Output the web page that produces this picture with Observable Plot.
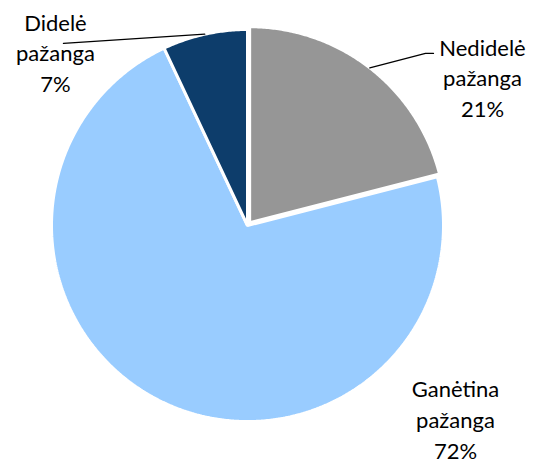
<!DOCTYPE html>
<html>
<head>
<meta charset="utf-8">
<script src="https://cdn.jsdelivr.net/npm/d3@7"></script>
<script src="https://cdn.jsdelivr.net/npm/@observablehq/plot@0.6"></script>
<style>
  html, body { margin: 0; padding: 0; background: #fff; }
</style>
</head>
<body>
<div id="chart"></div>
<script>
// Data
const categories = ["Nedidelė pažanga", "Ganėtina pažanga", "Didelė pažanga"];
const labelLines = [["Nedidelė", "pažanga"], ["Ganėtina", "pažanga"], ["Didelė", "pažanga"]];
const values = [21, 72, 7];
const colors = ["#969696", "#99CCFF", "#0D3D6B"];

// Layout (not data)
const explode = [0.018, 0, 0];
const labelX = [1.199, 1.061, -0.980];
const labelY = [0.760, -0.983, 0.888];
const leaderEnd = [[[0.908, 0.878], [0.949, 0.878]], null, [[-0.939, 0.929]]];

const total = d3.sum(values);
let cum = 0;
const slicePts = [];
const leaderPts = [];
values.forEach((v, i) => {
  const a0 = cum / total * 2 * Math.PI;
  cum += v;
  const a1 = cum / total * 2 * Math.PI;
  const mid = (a0 + a1) / 2;
  const ox = explode[i] * Math.sin(mid), oy = explode[i] * Math.cos(mid);
  slicePts.push({k: i, x: ox, y: oy});
  const n = Math.max(2, Math.ceil((a1 - a0) / (Math.PI / 360)));
  for (let j = 0; j <= n; j++) {
    const a = a0 + (a1 - a0) * j / n;
    slicePts.push({k: i, x: ox + Math.sin(a), y: oy + Math.cos(a)});
  }
  if (leaderEnd[i]) {
    leaderPts.push({k: i, x: ox + Math.sin(mid), y: oy + Math.cos(mid)});
    leaderEnd[i].forEach(p => leaderPts.push({k: i, x: p[0], y: p[1]}));
  }
});

const labels = categories.map((c, i) => ({
  text: labelLines[i].join("\n") + "\n" + values[i] + "%",
  x: labelX[i], y: labelY[i]
}));

const chart = Plot.plot({
  width: 537,
  height: 464,
  marginLeft: 51,
  marginRight: 94,
  marginTop: 29,
  marginBottom: 43,
  x: {domain: [-1, 1], axis: null},
  y: {domain: [-1, 1], axis: null},
  style: {fontFamily: "Lato, 'Open Sans', sans-serif", background: "#fff"},
  marks: [
    ...values.map((v, i) => Plot.line(slicePts.filter(d => d.k === i), {
      x: "x", y: "y", fill: colors[i], stroke: "#fff", strokeWidth: 3,
      curve: "linear-closed", strokeLinejoin: "miter", clip: false
    })),
    Plot.line(leaderPts, {x: "x", y: "y", z: "k", stroke: "#000", strokeWidth: 1.3, clip: false}),
    Plot.text(labels, {
      x: "x", y: "y", text: "text", fontSize: 22, fill: "#000",
      textAnchor: "middle", lineAnchor: "middle", lineHeight: 1.39, clip: false
    })
  ]
});
document.getElementById("chart").appendChild(chart);
</script>
</body>
</html>
